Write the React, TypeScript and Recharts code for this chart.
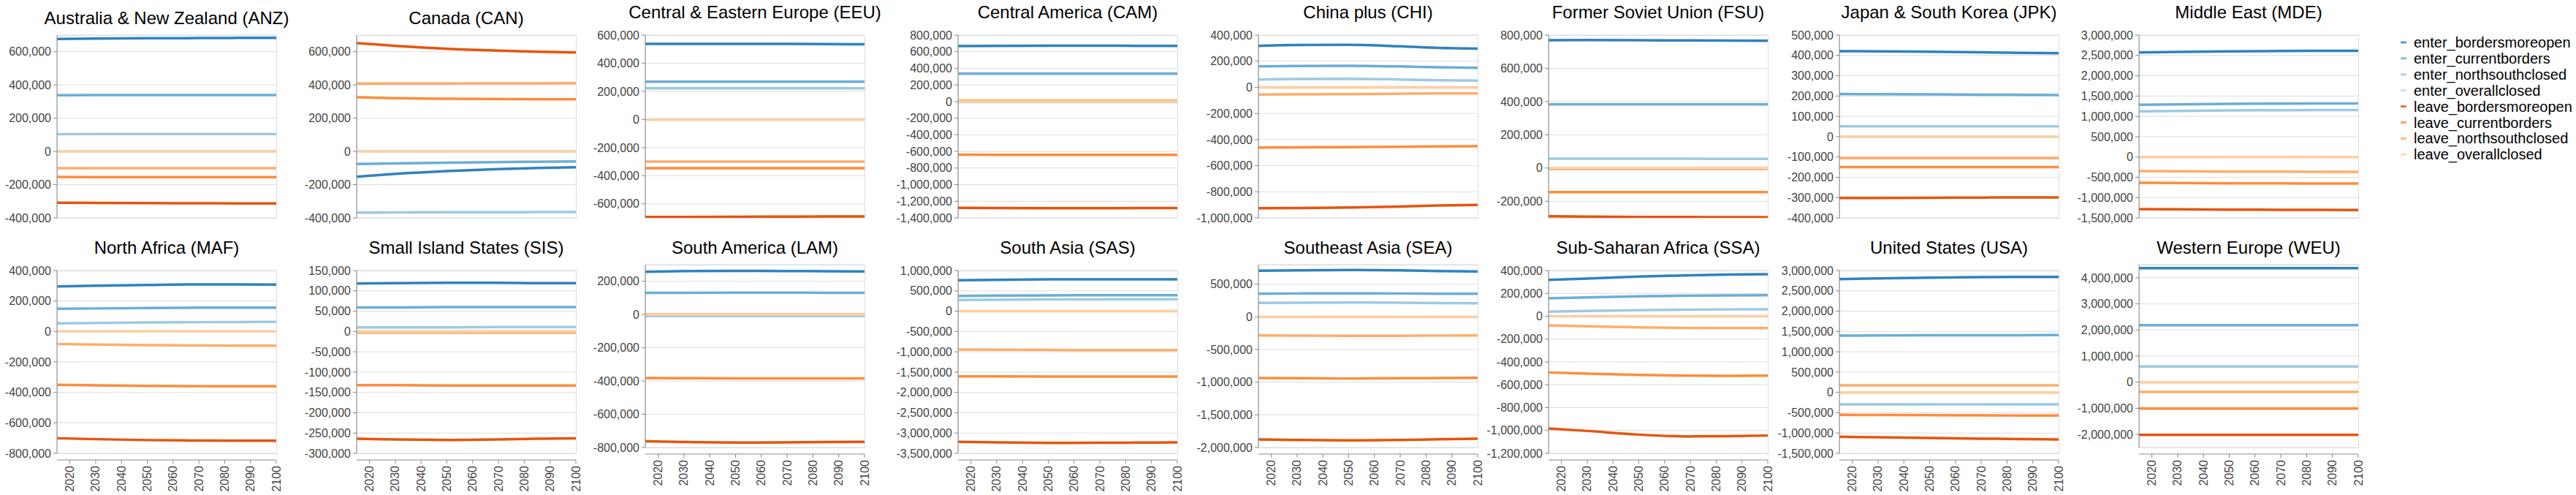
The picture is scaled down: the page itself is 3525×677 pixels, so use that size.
import React from 'react';
import { LineChart, Line, XAxis, YAxis, CartesianGrid } from 'recharts';

// sample years (x values) and the year tick labels of the bottom row
const years = [2015, 2030, 2050, 2070, 2085, 2100];
const yearTicks = [2020, 2030, 2040, 2050, 2060, 2070, 2080, 2090, 2100];

const seriesNames = [
  'enter_bordersmoreopen',
  'enter_currentborders',
  'enter_northsouthclosed',
  'enter_overallclosed',
  'leave_bordersmoreopen',
  'leave_currentborders',
  'leave_northsouthclosed',
  'leave_overallclosed',
];
const seriesColors = ['#3182bd', '#6baed6', '#9ecae1', '#c6dbef', '#e6550d', '#fd8d3c', '#fdae6b', '#fdd0a2'];

const regionNames = [
  'Australia & New Zealand (ANZ)',
  'Canada (CAN)',
  'Central & Eastern Europe (EEU)',
  'Central America (CAM)',
  'China plus (CHI)',
  'Former Soviet Union (FSU)',
  'Japan & South Korea (JPK)',
  'Middle East (MDE)',
  'North Africa (MAF)',
  'Small Island States (SIS)',
  'South America (LAM)',
  'South Asia (SAS)',
  'Southeast Asia (SEA)',
  'Sub-Saharan Africa (SSA)',
  'United States (USA)',
  'Western Europe (WEU)',
];

// y domains and tick labels, in thousands
const regionDomains = [
  [-400, 700], [-400, 700], [-700, 600], [-1400, 800], [-1000, 400], [-300, 800], [-400, 500], [-1500, 3000],
  [-800, 400], [-300, 150], [-800, 300], [-3500, 1000], [-2000, 800], [-1200, 400], [-1500, 3000], [-2500, 4500],
];
const regionTicks = [
  [-400, -200, 0, 200, 400, 600],
  [-400, -200, 0, 200, 400, 600],
  [-600, -400, -200, 0, 200, 400, 600],
  [-1400, -1200, -1000, -800, -600, -400, -200, 0, 200, 400, 600, 800],
  [-1000, -800, -600, -400, -200, 0, 200, 400],
  [-200, 0, 200, 400, 600, 800],
  [-400, -300, -200, -100, 0, 100, 200, 300, 400, 500],
  [-1500, -1000, -500, 0, 500, 1000, 1500, 2000, 2500, 3000],
  [-800, -600, -400, -200, 0, 200, 400],
  [-300, -250, -200, -150, -100, -50, 0, 50, 100, 150],
  [-800, -600, -400, -200, 0, 200],
  [-3500, -3000, -2500, -2000, -1500, -1000, -500, 0, 500, 1000],
  [-2000, -1500, -1000, -500, 0, 500],
  [-1200, -1000, -800, -600, -400, -200, 0, 200, 400],
  [-1500, -1000, -500, 0, 500, 1000, 1500, 2000, 2500, 3000],
  [-2000, -1000, 0, 1000, 2000, 3000, 4000],
];

// values in thousands, one row per series (same order as seriesNames)
const ANZ = [
  [677, 679, 681, 682, 683, 684],
  [338, 339, 339, 339, 339, 339],
  [104, 105, 105, 105, 105, 105],
  [0, 0, 0, 0, 0, 0],
  [-309, -310, -311, -312, -313, -313],
  [-154, -155, -155, -155, -155, -155],
  [-101, -101, -101, -101, -101, -101],
  [0, 0, 0, 0, 0, 0],
];
const CAN = [
  [-152, -135, -118, -106, -100, -95],
  [-76, -72, -68, -64, -62, -60],
  [-368, -367, -366, -366, -365, -365],
  [0, 0, 0, 0, 0, 0],
  [652, 635, 618, 607, 600, 596],
  [326, 320, 317, 315, 314, 314],
  [408, 408, 409, 410, 410, 411],
  [0, 0, 0, 0, 0, 0],
];
const EEU = [
  [538, 538, 538, 537, 536, 535],
  [269, 269, 269, 269, 269, 269],
  [222, 222, 222, 222, 222, 222],
  [0, 0, 0, 0, 0, 0],
  [-694, -693, -692, -691, -690, -690],
  [-346, -346, -346, -346, -346, -346],
  [-300, -300, -300, -300, -300, -300],
  [0, 0, 0, 0, 0, 0],
];
const CAM = [
  [669, 671, 672, 672, 671, 671],
  [336, 336, 336, 336, 336, 336],
  [-6, -6, -6, -6, -6, -6],
  [0, 0, 0, 0, 0, 0],
  [-1278, -1282, -1284, -1283, -1282, -1281],
  [-638, -640, -641, -641, -640, -640],
  [13, 13, 13, 13, 13, 13],
  [0, 0, 0, 0, 0, 0],
];
const CHI = [
  [318, 325, 326, 314, 302, 297],
  [160, 163, 165, 160, 154, 150],
  [60, 64, 66, 60, 54, 51],
  [0, 0, 0, 0, 0, 0],
  [-926, -924, -920, -913, -905, -900],
  [-461, -460, -458, -455, -452, -451],
  [-55, -54, -52, -49, -47, -46],
  [0, 0, 0, 0, 0, 0],
];
const FSU = [
  [769, 770, 769, 768, 767, 766],
  [383, 383, 383, 383, 383, 383],
  [56, 56, 56, 56, 55, 55],
  [0, 0, 0, 0, 0, 0],
  [-290, -292, -294, -295, -296, -296],
  [-145, -145, -145, -145, -145, -145],
  [-6, -6, -6, -6, -6, -6],
  [0, 0, 0, 0, 0, 0],
];
const JPK = [
  [421, 420, 418, 415, 413, 411],
  [210, 209, 208, 207, 206, 205],
  [51, 51, 51, 51, 51, 51],
  [0, 0, 0, 0, 0, 0],
  [-302, -302, -301, -300, -299, -299],
  [-150, -150, -150, -150, -150, -150],
  [-106, -106, -106, -106, -106, -106],
  [0, 0, 0, 0, 0, 0],
];
const MDE = [
  [2573, 2585, 2600, 2608, 2612, 2615],
  [1284, 1295, 1308, 1314, 1317, 1319],
  [1123, 1133, 1146, 1151, 1154, 1156],
  [0, 0, 0, 0, 0, 0],
  [-1284, -1290, -1296, -1301, -1304, -1306],
  [-636, -642, -648, -651, -653, -655],
  [-348, -354, -360, -363, -365, -366],
  [0, 0, 0, 0, 0, 0],
];
const MAF = [
  [296, 300, 305, 309, 309, 307],
  [149, 151, 154, 156, 157, 157],
  [53, 56, 59, 61, 62, 63],
  [0, 0, 0, 0, 0, 0],
  [-701, -707, -713, -716, -717, -717],
  [-350, -354, -357, -359, -360, -360],
  [-83, -86, -90, -92, -93, -93],
  [0, 0, 0, 0, 0, 0],
];
const SIS = [
  [118, 119, 120, 120, 119, 119],
  [59, 59, 60, 60, 60, 60],
  [10, 10, 10, 11, 11, 11],
  [0, 0, 0, 0, 0, 0],
  [-264, -266, -267, -266, -264, -263],
  [-132, -132, -133, -133, -133, -133],
  [-3, -3, -3, -3, -3, -3],
  [0, 0, 0, 0, 0, 0],
];
const LAM = [
  [257, 261, 263, 262, 260, 259],
  [130, 131, 132, 132, 131, 131],
  [-9, -9, -9, -9, -9, -9],
  [0, 0, 0, 0, 0, 0],
  [-763, -767, -770, -769, -767, -766],
  [-382, -383, -384, -384, -384, -384],
  [2, 2, 2, 2, 2, 2],
  [0, 0, 0, 0, 0, 0],
];
const SAS = [
  [760, 772, 782, 785, 785, 784],
  [376, 384, 390, 393, 394, 394],
  [274, 282, 288, 291, 292, 292],
  [0, 0, 0, 0, 0, 0],
  [-3218, -3232, -3242, -3240, -3235, -3230],
  [-1604, -1607, -1610, -1610, -1610, -1610],
  [-944, -950, -955, -956, -956, -956],
  [0, 0, 0, 0, 0, 0],
];
const SEA = [
  [707, 714, 718, 712, 703, 696],
  [356, 359, 361, 359, 356, 354],
  [214, 218, 221, 218, 213, 210],
  [0, 0, 0, 0, 0, 0],
  [-1877, -1886, -1892, -1886, -1875, -1866],
  [-936, -940, -943, -940, -935, -932],
  [-283, -287, -290, -288, -285, -283],
  [0, 0, 0, 0, 0, 0],
];
const SSA = [
  [319, 330, 347, 359, 365, 368],
  [157, 165, 174, 180, 183, 184],
  [40, 46, 53, 58, 60, 61],
  [0, 0, 0, 0, 0, 0],
  [-982, -1004, -1036, -1052, -1050, -1044],
  [-492, -503, -514, -520, -521, -520],
  [-80, -88, -97, -103, -104, -104],
  [0, 0, 0, 0, 0, 0],
];
const USA = [
  [2790, 2808, 2826, 2836, 2841, 2844],
  [1398, 1402, 1405, 1408, 1409, 1410],
  [-294, -294, -294, -294, -294, -294],
  [0, 0, 0, 0, 0, 0],
  [-1092, -1105, -1122, -1138, -1150, -1158],
  [-552, -556, -561, -565, -568, -570],
  [174, 174, 174, 174, 174, 174],
  [0, 0, 0, 0, 0, 0],
];
const WEU = [
  [4369, 4369, 4370, 4370, 4370, 4369],
  [2185, 2185, 2185, 2185, 2185, 2185],
  [600, 600, 600, 600, 600, 600],
  [0, 0, 0, 0, 0, 0],
  [-2015, -2015, -2016, -2016, -2015, -2015],
  [-1007, -1007, -1008, -1008, -1008, -1007],
  [-372, -372, -372, -372, -372, -372],
  [0, 0, 0, 0, 0, 0],
];
const regionValues = [ANZ, CAN, EEU, CAM, CHI, FSU, JPK, MDE, MAF, SIS, LAM, SAS, SEA, SSA, USA, WEU];

// layout
const AXW = 120;
const PW = 300;
const PH = 250;
const MT = 14;
const MR = 14;
const colLeft = [78, 488, 883, 1311, 1722, 2119, 2517, 2927];
const plotTop = [48, 48, 48, 48, 48, 48, 48, 48, 370, 370, 362, 370, 362, 370, 370, 362];
const titleBase = [33, 33, 25, 25, 25, 25, 25, 25, 347, 347, 347, 347, 347, 347, 347, 347];
const FONT = "'Liberation Sans', Arial, sans-serif";

const fmt = (v: number) => v.toLocaleString('en-US');

const YearTick = (props: any) => {
  const { x, y, payload, index } = props;
  return (
    <g>
      {index === 0 && <line x1={AXW} x2={AXW + PW} y1={y + 9} y2={y + 9} stroke="#888" />}
      <line x1={x} x2={x} y1={y + 9} y2={y + 14} stroke="#888" />
      <text
        x={0}
        y={0}
        transform={`translate(${x},${y + 17}) rotate(-90)`}
        textAnchor="end"
        dominantBaseline="central"
        fontSize={16}
        fill="#444"
      >
        {payload.value}
      </text>
    </g>
  );
};

function Panel({ idx }: { idx: number }) {
  const col = idx % 8;
  const bottom = idx >= 8;
  const values = regionValues[idx];
  const rows = years.map((year, i) => {
    const r: any = { year };
    seriesNames.forEach((s, k) => {
      r[s] = values[k][i] * 1000;
    });
    return r;
  });
  const domain = regionDomains[idx].map((v) => v * 1000);
  const ticks = regionTicks[idx].map((v) => v * 1000);
  const XH = bottom ? 60 : 0;
  const MB = bottom ? 0 : 14;
  return (
    <div style={{ position: 'absolute', left: colLeft[col] - AXW, top: plotTop[idx] - MT }}>
      <div
        style={{
          position: 'absolute',
          left: AXW,
          top: MT,
          width: PW + 1,
          height: PH + 1,
          boxSizing: 'border-box',
          border: '1px solid #ddd',
        }}
      />
      <LineChart
        width={AXW + PW + MR}
        height={MT + PH + XH + MB}
        data={rows}
        margin={{ top: MT, right: MR, left: 0, bottom: MB }}
      >
        <CartesianGrid vertical={false} stroke="#ddd" />
        <XAxis
          dataKey="year"
          type="number"
          domain={[2015, 2100]}
          ticks={yearTicks}
          interval={0}
          hide={!bottom}
          height={XH}
          axisLine={false}
          tickLine={false}
          tickSize={0}
          tickMargin={0}
          tick={<YearTick />}
        />
        <YAxis
          type="number"
          domain={domain}
          ticks={ticks}
          interval={0}
          allowDataOverflow
          width={AXW}
          tickFormatter={fmt}
          tick={{ fill: '#444', fontSize: 16 }}
          tickSize={5}
          tickMargin={3}
          axisLine={{ stroke: '#888' }}
          tickLine={{ stroke: '#888' }}
        />
        {seriesNames.map((s, k) => (
          <Line
            key={s}
            type="monotone"
            dataKey={s}
            stroke={seriesColors[k]}
            strokeWidth={3.5}
            dot={false}
            isAnimationActive={false}
          />
        ))}
      </LineChart>
    </div>
  );
}

export default function App() {
  return (
    <div style={{ position: 'absolute', left: 0, top: 0, width: 3525, height: 677, background: '#fff', fontFamily: FONT }}>
      {regionNames.map((_, i) => (
        <Panel key={i} idx={i} />
      ))}
      <svg width={3525} height={677} style={{ position: 'absolute', left: 0, top: 0, pointerEvents: 'none' }}>
        {regionNames.map((name, i) => (
          <text
            key={name}
            x={colLeft[i % 8] + PW / 2}
            y={titleBase[i]}
            textAnchor="middle"
            fontSize={24}
            fill="#000"
            fontFamily={FONT}
          >
            {name}
          </text>
        ))}
        {seriesNames.map((s, k) => (
          <g key={s}>
            <line x1={3285} x2={3293} y1={58 + k * 21.9} y2={58 + k * 21.9} stroke={seriesColors[k]} strokeWidth={3} opacity={0.8} />
            <text x={3303} y={65 + k * 21.9} fontSize={20} fill="#000" fontFamily={FONT}>
              {s}
            </text>
          </g>
        ))}
      </svg>
    </div>
  );
}
